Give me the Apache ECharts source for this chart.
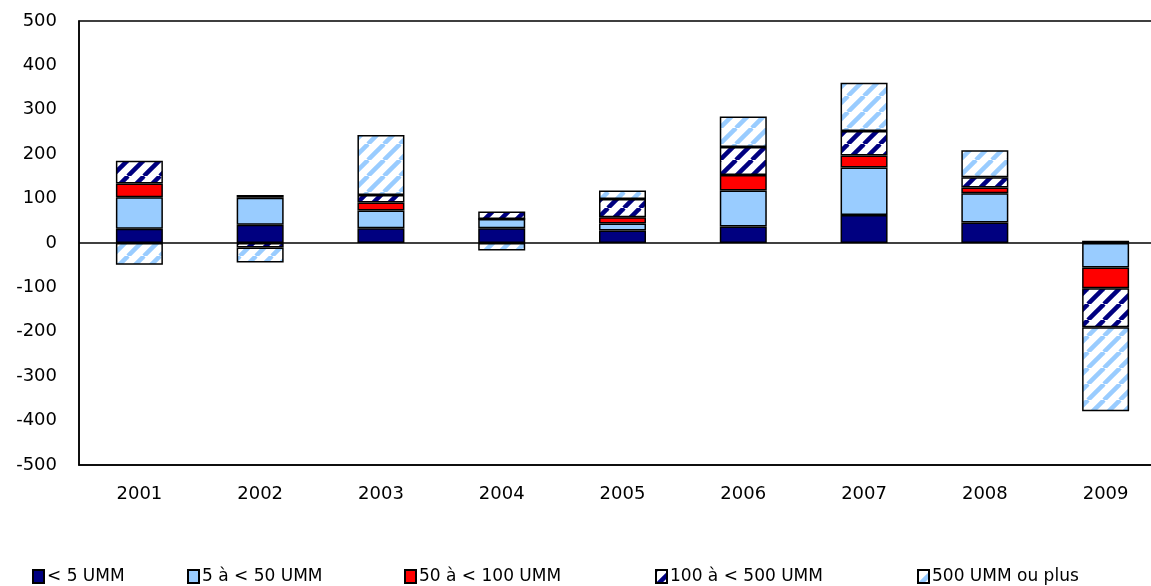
<!DOCTYPE html>
<html>
<head>
<meta charset="utf-8">
<script src="https://cdn.jsdelivr.net/npm/echarts@6/dist/echarts.min.js"></script>
<style>
  html, body { margin: 0; padding: 0; background: #fff; }
  #main { width: 1151px; height: 586px; }
</style>
</head>
<body>
<div id="main"></div>
<script>
// années
const years = ['2001', '2002', '2003', '2004', '2005', '2006', '2007', '2008', '2009'];

// valeurs
const lt5 = [32, 41, 33, 33, 28, 37, 63, 46, 5];
const s5to50 = [71, 61, 40, 21, 16, 81, 107, 66, -55];
const s50to100 = [31, 6, 18, 0, 14, 35, 27, 13, -47];
const s100to500 = [51, -10, 17, 17, 41, 63, 55, 23, -88];
const s500plus = [-49, -34, 135, -17, 19, 69, 109, 61, -189];

const names = ['< 5 UMM', '5 à < 50 UMM', '50 à < 100 UMM', '100 à < 500 UMM', '500 UMM ou plus'];
const legendX = [32, 187, 404, 655, 917];

/* motif hachuré en diagonale */
function stripes(color) {
    const c = document.createElement('canvas');
    c.width = c.height = 16;
    const g = c.getContext('2d');
    g.fillStyle = '#fff';
    g.fillRect(0, 0, 16, 16);
    g.strokeStyle = color;
    g.lineWidth = 4.5;
    [-16, 0, 16].forEach(function (o) {
        g.beginPath();
        g.moveTo(o, 16);
        g.lineTo(o + 16, 0);
        g.stroke();
    });
    return c;
}

const fills = [
    '#000080',
    '#99CCFF',
    '#FF0000',
    { image: stripes('#000080'), repeat: 'repeat' },
    { image: stripes('#99CCFF'), repeat: 'repeat' }
];
const values = [lt5, s5to50, s50to100, s100to500, s500plus];

const font = 'DejaVu Sans';

const series = names.map(function (name, i) {
    const s = {
        name: name,
        type: 'bar',
        stack: 'total',
        barWidth: 47,
        data: values[i],
        itemStyle: { color: fills[i], borderColor: '#000', borderWidth: 1.5 }
    };
    if (i === 0) {
        s.markLine = {
            silent: true,
            symbol: 'none',
            label: { show: false },
            lineStyle: { color: '#000', width: 1.5, type: 'solid' },
            data: [{ yAxis: 0 }]
        };
    }
    return s;
});

const chart = echarts.init(document.getElementById('main'));
chart.setOption({
    animation: false,
    grid: {
        left: 79, top: 21, width: 1087, height: 444,
        outerBoundsMode: 'none',
        containLabel: false,
        show: true, borderColor: '#000', borderWidth: 1.5
    },
    legend: names.map(function (name, i) {
        return {
            data: [name],
            left: legendX[i],
            top: 568,
            padding: 0,
            itemWidth: 11,
            itemHeight: 13,
            icon: 'rect',
            textStyle: { fontFamily: font, fontSize: 17, color: '#000', padding: [0, 0, 0, -2] }
        };
    }),
    xAxis: {
        type: 'category',
        data: years,
        axisLine: { onZero: false, lineStyle: { color: '#000', width: 1.5 } },
        axisTick: { show: false },
        axisLabel: { fontFamily: font, fontSize: 18, color: '#000', margin: 20 }
    },
    yAxis: {
        type: 'value',
        min: -500,
        max: 500,
        interval: 100,
        axisLine: { show: true, lineStyle: { color: '#000', width: 1.5 } },
        axisTick: { show: false },
        splitLine: { show: false },
        axisLabel: { fontFamily: font, fontSize: 18, color: '#000', margin: 22 }
    },
    series: series
});
</script>
</body>
</html>
